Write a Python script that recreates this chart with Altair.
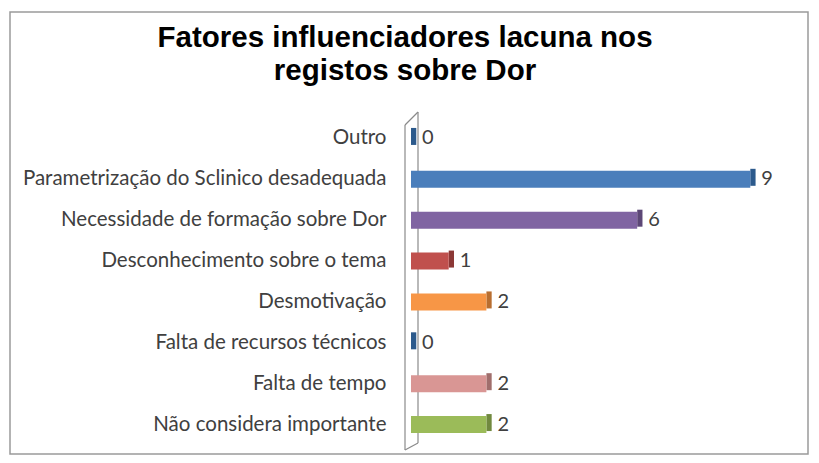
import altair as alt
import pandas as pd

title_lines = "Fatores influenciadores lacuna nos\nregistos sobre Dor"
categories = [
    "Outro",
    "Parametrização do Sclinico desadequada",
    "Necessidade de formação sobre Dor",
    "Desconhecimento sobre o tema",
    "Desmotivação",
    "Falta de recursos técnicos",
    "Falta de tempo",
    "Não considera importante",
]
values = [0, 9, 6, 1, 2, 0, 2, 2]
front_colors = ["#4A7EBB", "#4A7EBB", "#8064A2", "#C0504D", "#F79646", "#4A7EBB", "#D99694", "#9BBB59"]
side_colors = ["#2C5A8C", "#2C5A8C", "#5C4776", "#8C3836", "#B86E30", "#2C5A8C", "#A06E6C", "#71893F"]

df = pd.DataFrame({"cat": categories, "value": values, "front": front_colors, "side": side_colors})

W, H = 377, 327

# decorative back wall (pixel units)
wall = pd.DataFrame({
    "x": [-6, -6, 7, -6],
    "y": [7, 7, -6, 332],
    "x2": [-6, 7, 7, 7],
    "y2": [332, -6, 325, 325],
})

y_enc = alt.Y("cat:N", sort=categories, title=None,
              scale=alt.Scale(paddingInner=0.6, paddingOuter=0.3),
              axis=alt.Axis(labelFont="Lato", labelFontSize=20.5, labelColor="#404040",
                            ticks=False, domain=False, labelPadding=25, labelLimit=500))
x_scale = alt.Scale(domain=[0, 10])

base = alt.Chart(df)

side = base.transform_calculate(end="datum.value + 0.14").mark_bar(size=17, yOffset=-2).encode(
    x=alt.X("value:Q", scale=x_scale, axis=None),
    x2="end:Q",
    y=y_enc,
    color=alt.Color("side:N", scale=None),
)

front = base.mark_bar(size=17).encode(
    x=alt.X("value:Q", scale=x_scale, axis=None),
    y=y_enc,
    color=alt.Color("front:N", scale=None),
)

labels = base.mark_text(align="left", baseline="middle", dx=11, font="Lato", fontSize=20, color="#404040").encode(
    x=alt.X("value:Q", scale=x_scale, axis=None),
    y=y_enc,
    text="value:Q",
)

wall_chart = alt.Chart(wall).mark_rule(color="#8a8a8a", strokeWidth=1.2).encode(
    x=alt.X("x:Q", scale=None), y=alt.Y("y:Q", scale=None),
    x2="x2:Q", y2="y2:Q",
)

border = alt.Chart(pd.DataFrame({"a": [0]})).mark_rect(
    fill=None, stroke="#9a9a9a", strokeWidth=1.5
).encode(
    x=alt.value(-401), x2=alt.value(397), y=alt.value(-106), y2=alt.value(336)
)

title = alt.Chart(pd.DataFrame({"t": [title_lines]})).mark_text(
    font="Liberation Sans", fontSize=29.5, fontWeight="bold", color="#000000",
    align="center", baseline="alphabetic", lineBreak="\n", lineHeight=33,
).encode(text="t:N", x=alt.value(-6), y=alt.value(-71))

chart = alt.layer(border, title, wall_chart, side, front, labels).properties(
    width=W, height=H,
    padding={"left": 403, "top": 110, "right": 23, "bottom": 10},
    autosize=alt.AutoSizeParams(type="none"),
    background="white",
).configure_view(stroke=None)

chart.save("out.html", embed_options={"renderer": "svg", "actions": False})
